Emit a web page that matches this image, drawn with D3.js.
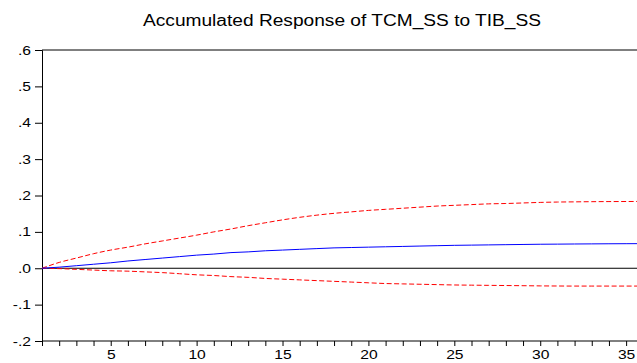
<!DOCTYPE html>
<html>
<head>
<meta charset="utf-8">
<script src="https://cdn.jsdelivr.net/npm/d3@7"></script>
<style>
  html, body { margin: 0; padding: 0; background: #fff; }
  svg { display: block; font-family: "Liberation Sans", Arial, sans-serif; }
</style>
</head>
<body>
<svg id="chart" width="637" height="363"></svg>
<script>
// Accumulated impulse response, periods 1..36
const periods = d3.range(1, 37);
const response = [
  0.000, 0.003, 0.007, 0.011, 0.015, 0.020, 0.024, 0.028, 0.032, 0.036,
  0.039, 0.043, 0.045, 0.048, 0.050, 0.052, 0.054, 0.056, 0.057, 0.058,
  0.059, 0.060, 0.061, 0.062, 0.063, 0.0636, 0.0642, 0.0648, 0.0654, 0.066,
  0.0663, 0.0667, 0.067, 0.0673, 0.0675, 0.0677
];
const upperBand = [
  0.000, 0.016, 0.028, 0.040, 0.050, 0.058, 0.067, 0.075, 0.083, 0.091,
  0.100, 0.108, 0.117, 0.125, 0.133, 0.140, 0.146, 0.151, 0.155, 0.159,
  0.162, 0.165, 0.168, 0.171, 0.173, 0.175, 0.177, 0.178, 0.1795, 0.181,
  0.182, 0.1825, 0.183, 0.1833, 0.1835, 0.1837
];
const lowerBand = [
  0.000, -0.001, -0.003, -0.005, -0.007, -0.008, -0.010, -0.012, -0.015, -0.018,
  -0.020, -0.023, -0.025, -0.028, -0.030, -0.032, -0.034, -0.036, -0.038, -0.040,
  -0.042, -0.043, -0.044, -0.045, -0.046, -0.0465, -0.047, -0.0475, -0.048, -0.0485,
  -0.0488, -0.049, -0.049, -0.049, -0.049, -0.049
];
const yTicks = [-0.2, -0.1, 0.0, 0.1, 0.2, 0.3, 0.4, 0.5, 0.6];
const xLabelTicks = [5, 10, 15, 20, 25, 30, 35];
const title = "Accumulated Response of TCM_SS to TIB_SS";

const svg = d3.select("#chart");
const W = 637;
const STRETCH = 1.25; // labels are drawn horizontally widened

const x = d3.scaleLinear().domain([1, 36]).range([42, 643.3]);
const y = d3.scaleLinear().domain([-0.2, 0.6]).range([341, 50]);

// ".6", "-.2" style labels without leading zero
const fmt = v => {
  const a = Math.abs(v).toFixed(1).replace(/^0/, "");
  return (v < -1e-9 ? "-" : "") + a;
};

// widen a text selection by STRETCH keeping its anchor
function widen(sel) {
  sel.each(function () {
    const w = this.getComputedTextLength();
    if (w > 0) {
      d3.select(this)
        .attr("textLength", w * STRETCH)
        .attr("lengthAdjust", "spacingAndGlyphs");
    }
  });
}

// Title
svg.append("text")
  .attr("x", 342)
  .attr("y", 26)
  .attr("text-anchor", "middle")
  .attr("font-size", 16)
  .attr("textLength", 398)
  .attr("lengthAdjust", "spacingAndGlyphs")
  .attr("fill", "#000")
  .text(title);

// Frame: top border
svg.append("line")
  .attr("x1", x(1)).attr("x2", W)
  .attr("y1", y(0.6)).attr("y2", y(0.6))
  .attr("stroke", "#000").attr("stroke-width", 1);

// Y axis
const yAxis = d3.axisLeft(y).tickValues(yTicks).tickSize(7).tickPadding(4).tickFormat(fmt);
const gy = svg.append("g").attr("transform", `translate(${x(1)},0)`).call(yAxis);
gy.select(".domain").attr("stroke", "#000");
gy.selectAll(".tick line").attr("stroke", "#000");
gy.selectAll(".tick text")
  .attr("font-size", 12.5)
  .attr("font-family", "Liberation Sans, Arial, sans-serif")
  .attr("fill", "#000")
  .call(widen);

// X axis: minor tick every period, labels every five
const xAxis = d3.axisBottom(x).tickValues(periods).tickSize(5).tickPadding(4)
  .tickFormat(d => xLabelTicks.includes(d) ? d : "");
const gx = svg.append("g").attr("transform", `translate(0,${y(-0.2)})`).call(xAxis);
gx.select(".domain").attr("d", `M${x(1)},0H${W}`).attr("stroke", "#000");
gx.selectAll(".tick line").attr("stroke", "#000");
gx.selectAll(".tick text")
  .attr("font-size", 12.5)
  .attr("font-family", "Liberation Sans, Arial, sans-serif")
  .attr("fill", "#000")
  .call(widen);

// Zero line
svg.append("line")
  .attr("x1", x(1)).attr("x2", W)
  .attr("y1", y(0)).attr("y2", y(0))
  .attr("stroke", "#000").attr("stroke-width", 1);

const line = d3.line().x((d, i) => x(periods[i])).y(d => y(d)).curve(d3.curveMonotoneX);

const plot = svg.append("g");
plot.append("path").datum(upperBand)
  .attr("d", line).attr("fill", "none")
  .attr("stroke", "#ff0000").attr("stroke-width", 1).attr("stroke-dasharray", "5,2.5");
plot.append("path").datum(lowerBand)
  .attr("d", line).attr("fill", "none")
  .attr("stroke", "#ff0000").attr("stroke-width", 1).attr("stroke-dasharray", "5,2.5");
plot.append("path").datum(response)
  .attr("d", line).attr("fill", "none")
  .attr("stroke", "#0000ff").attr("stroke-width", 1);
</script>
</body>
</html>
